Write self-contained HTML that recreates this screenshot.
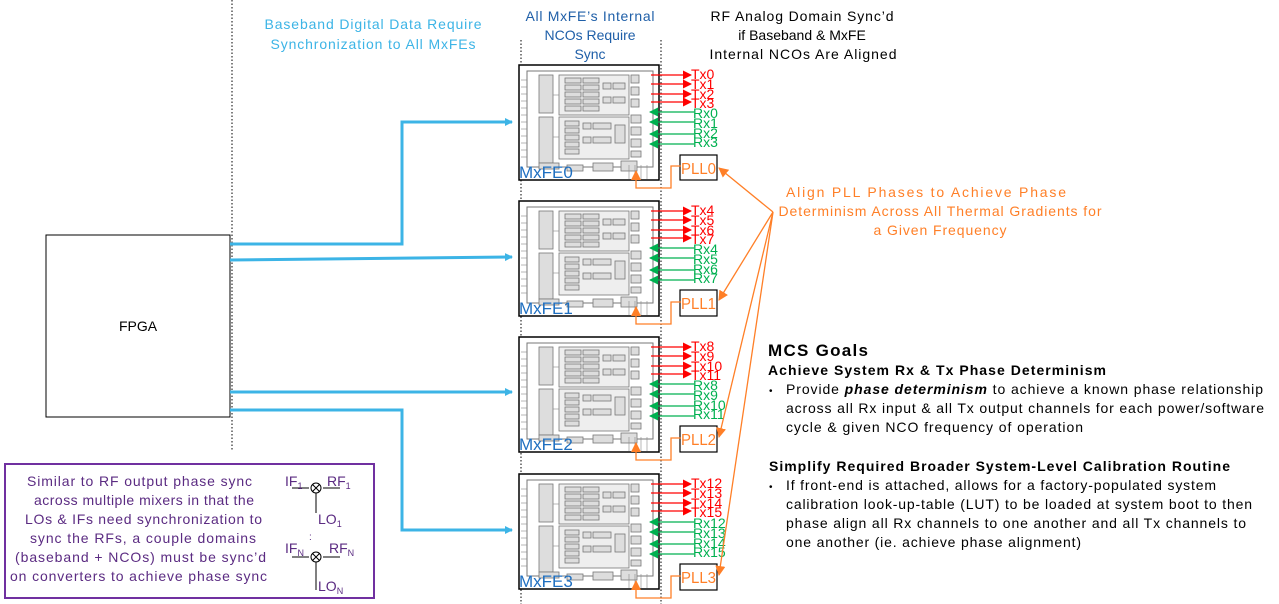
<!DOCTYPE html>
<html><head><meta charset="utf-8"><style>
body{margin:0;background:#fff;}
svg{display:block;font-family:"Liberation Sans",Arial,sans-serif;}
</style></head><body>
<svg width="1279" height="604" viewBox="0 0 1279 604" xmlns="http://www.w3.org/2000/svg">
<defs>
<marker id="ab" markerWidth="8" markerHeight="8" refX="7" refY="4" orient="auto" markerUnits="userSpaceOnUse"><path d="M0,0 L8,4 L0,8 z" fill="#3cb4e6"/></marker>
<marker id="ao" markerWidth="10" markerHeight="10" refX="9" refY="5" orient="auto" markerUnits="userSpaceOnUse"><path d="M0,0 L10,5 L0,10 z" fill="#ff7f27"/></marker>
<marker id="ar" markerWidth="9" markerHeight="9" refX="8" refY="4.5" orient="auto" markerUnits="userSpaceOnUse"><path d="M0,0 L9,4.5 L0,9 z" fill="#ff0000"/></marker>
<marker id="ag" markerWidth="9" markerHeight="9" refX="8" refY="4.5" orient="auto" markerUnits="userSpaceOnUse"><path d="M0,0 L9,4.5 L0,9 z" fill="#00b050"/></marker>
<g id="chip">
<rect x="0" y="0" width="140" height="115" fill="#fff" stroke="#000" stroke-width="1.5"/>
<rect x="8" y="6" width="126" height="96" fill="none" stroke="#777" stroke-width="1"/>
<g stroke="#777" stroke-width="0.8" fill="#ddd">
<rect x="20" y="10" width="14" height="38"/><rect x="20" y="52" width="14" height="46"/>
<rect x="40" y="10" width="70" height="40" fill="#eee"/><rect x="40" y="52" width="70" height="42" fill="#eee"/>
<rect x="46" y="13" width="16" height="5"/><rect x="46" y="20" width="16" height="5"/><rect x="46" y="27" width="16" height="5"/><rect x="46" y="34" width="16" height="5"/><rect x="46" y="41" width="16" height="5"/>
<rect x="64" y="13" width="16" height="5"/><rect x="64" y="20" width="16" height="5"/><rect x="64" y="27" width="16" height="5"/><rect x="64" y="34" width="16" height="5"/><rect x="64" y="41" width="16" height="5"/>
<rect x="84" y="18" width="8" height="6"/><rect x="94" y="18" width="12" height="6"/><rect x="84" y="32" width="8" height="6"/><rect x="94" y="32" width="12" height="6"/>
<rect x="46" y="56" width="14" height="5"/><rect x="46" y="63" width="14" height="5"/><rect x="46" y="70" width="14" height="5"/><rect x="46" y="77" width="14" height="5"/><rect x="46" y="84" width="14" height="5"/>
<rect x="64" y="58" width="8" height="6"/><rect x="74" y="58" width="18" height="6"/><rect x="64" y="72" width="8" height="6"/><rect x="74" y="72" width="18" height="6"/>
<rect x="96" y="60" width="10" height="18"/>
<rect x="112" y="10" width="8" height="8"/><rect x="112" y="22" width="8" height="8"/><rect x="112" y="34" width="8" height="8"/>
<rect x="112" y="50" width="10" height="8"/><rect x="112" y="62" width="10" height="8"/><rect x="112" y="74" width="10" height="8"/><rect x="112" y="86" width="10" height="6"/>
<rect x="20" y="98" width="20" height="6"/><rect x="48" y="100" width="16" height="6"/><rect x="74" y="98" width="20" height="8"/><rect x="102" y="96" width="16" height="10"/>
</g>
<g stroke="#888" stroke-width="0.6">
<line x1="2" y1="15" x2="8" y2="15"/><line x1="2" y1="22" x2="8" y2="22"/><line x1="2" y1="29" x2="8" y2="29"/><line x1="2" y1="36" x2="8" y2="36"/><line x1="2" y1="43" x2="8" y2="43"/><line x1="2" y1="50" x2="8" y2="50"/><line x1="2" y1="57" x2="8" y2="57"/><line x1="2" y1="64" x2="8" y2="64"/><line x1="2" y1="71" x2="8" y2="71"/><line x1="2" y1="78" x2="8" y2="78"/><line x1="2" y1="85" x2="8" y2="85"/><line x1="2" y1="92" x2="8" y2="92"/>
<line x1="34" y1="30" x2="40" y2="30"/><line x1="34" y1="72" x2="40" y2="72"/>
<line x1="110" y1="100" x2="110" y2="114"/><line x1="116" y1="100" x2="116" y2="114"/><line x1="122" y1="100" x2="122" y2="114"/><line x1="128" y1="100" x2="128" y2="114"/>
</g>
</g>
</defs>

<g stroke="#000" stroke-width="1" stroke-dasharray="1.5,2">
<line x1="232" y1="0" x2="232" y2="450"/>
<line x1="521" y1="40" x2="521" y2="604"/>
<line x1="661" y1="40" x2="661" y2="604"/>
</g>

<g font-size="14" text-anchor="middle">
<text x="373" y="29" fill="#3cb4e6" textLength="217" lengthAdjust="spacing">Baseband Digital Data Require</text>
<text x="373" y="49" fill="#3cb4e6" textLength="205" lengthAdjust="spacing">Synchronization  to All MxFEs</text>
<text x="590" y="21" fill="#1f5fa8" textLength="129" lengthAdjust="spacing">All MxFE’s Internal</text>
<text x="590" y="40" fill="#1f5fa8">NCOs Require</text>
<text x="590" y="59" fill="#1f5fa8">Sync</text>
<text x="802" y="21" fill="#000" textLength="183" lengthAdjust="spacing">RF Analog Domain Sync’d</text>
<text x="802" y="40" fill="#000">if Baseband &amp; MxFE</text>
<text x="803" y="59" fill="#000" textLength="187" lengthAdjust="spacing">Internal  NCOs Are Aligned</text>
</g>

<rect x="46" y="235" width="184" height="182" fill="#fff" stroke="#000" stroke-width="1"/>
<text x="138" y="331" font-size="14" text-anchor="middle">FPGA</text>

<g fill="none" stroke="#3cb4e6" stroke-width="3">
<polyline points="230,244 402,244 402,122 512,122" marker-end="url(#ab)"/>
<polyline points="230,260 512,257" marker-end="url(#ab)"/>
<polyline points="230,392 512,392" marker-end="url(#ab)"/>
<polyline points="230,410 402,410 402,530 512,530" marker-end="url(#ab)"/>
</g>

<use href="#chip" x="519" y="65"/>
<use href="#chip" x="519" y="201"/>
<use href="#chip" x="519" y="337"/>
<use href="#chip" x="519" y="474"/>
<g font-size="17" fill="#1f6fc0">
<text x="519" y="178">MxFE0</text>
<text x="519" y="314">MxFE1</text>
<text x="519" y="450">MxFE2</text>
<text x="519" y="587">MxFE3</text>
</g>

<g font-size="14">
<g stroke="#ff0000" stroke-width="1.3">
<line x1="651" y1="75" x2="691" y2="75" marker-end="url(#ar)"/><line x1="651" y1="84" x2="691" y2="84" marker-end="url(#ar)"/><line x1="651" y1="94" x2="691" y2="94" marker-end="url(#ar)"/><line x1="651" y1="102" x2="691" y2="102" marker-end="url(#ar)"/>
<line x1="651" y1="211" x2="691" y2="211" marker-end="url(#ar)"/><line x1="651" y1="220" x2="691" y2="220" marker-end="url(#ar)"/><line x1="651" y1="230" x2="691" y2="230" marker-end="url(#ar)"/><line x1="651" y1="238" x2="691" y2="238" marker-end="url(#ar)"/>
<line x1="651" y1="347" x2="691" y2="347" marker-end="url(#ar)"/><line x1="651" y1="356" x2="691" y2="356" marker-end="url(#ar)"/><line x1="651" y1="366" x2="691" y2="366" marker-end="url(#ar)"/><line x1="651" y1="374" x2="691" y2="374" marker-end="url(#ar)"/>
<line x1="651" y1="484" x2="691" y2="484" marker-end="url(#ar)"/><line x1="651" y1="493" x2="691" y2="493" marker-end="url(#ar)"/><line x1="651" y1="503" x2="691" y2="503" marker-end="url(#ar)"/><line x1="651" y1="511" x2="691" y2="511" marker-end="url(#ar)"/>
</g>
<g stroke="#00b050" stroke-width="1.3">
<line x1="694" y1="112" x2="650" y2="112" marker-end="url(#ag)"/><line x1="694" y1="122" x2="650" y2="122" marker-end="url(#ag)"/><line x1="694" y1="134" x2="650" y2="134" marker-end="url(#ag)"/><line x1="694" y1="144" x2="650" y2="144" marker-end="url(#ag)"/>
<line x1="694" y1="248" x2="650" y2="248" marker-end="url(#ag)"/><line x1="694" y1="258" x2="650" y2="258" marker-end="url(#ag)"/><line x1="694" y1="270" x2="650" y2="270" marker-end="url(#ag)"/><line x1="694" y1="280" x2="650" y2="280" marker-end="url(#ag)"/>
<line x1="694" y1="384" x2="650" y2="384" marker-end="url(#ag)"/><line x1="694" y1="394" x2="650" y2="394" marker-end="url(#ag)"/><line x1="694" y1="406" x2="650" y2="406" marker-end="url(#ag)"/><line x1="694" y1="416" x2="650" y2="416" marker-end="url(#ag)"/>
<line x1="694" y1="522" x2="650" y2="522" marker-end="url(#ag)"/><line x1="694" y1="532" x2="650" y2="532" marker-end="url(#ag)"/><line x1="694" y1="544" x2="650" y2="544" marker-end="url(#ag)"/><line x1="694" y1="554" x2="650" y2="554" marker-end="url(#ag)"/>
</g>
<g fill="#ff0000">
<text x="691" y="79">Tx0</text><text x="691" y="89">Tx1</text><text x="691" y="99">Tx2</text><text x="691" y="108">Tx3</text>
<text x="691" y="215">Tx4</text><text x="691" y="225">Tx5</text><text x="691" y="235">Tx6</text><text x="691" y="244">Tx7</text>
<text x="691" y="351">Tx8</text><text x="691" y="361">Tx9</text><text x="691" y="371">Tx10</text><text x="691" y="380">Tx11</text>
<text x="691" y="488">Tx12</text><text x="691" y="498">Tx13</text><text x="691" y="508">Tx14</text><text x="691" y="517">Tx15</text>
</g>
<g fill="#00b050">
<text x="693" y="118">Rx0</text><text x="693" y="128">Rx1</text><text x="693" y="138">Rx2</text><text x="693" y="147">Rx3</text>
<text x="693" y="254">Rx4</text><text x="693" y="264">Rx5</text><text x="693" y="274">Rx6</text><text x="693" y="283">Rx7</text>
<text x="693" y="390">Rx8</text><text x="693" y="400">Rx9</text><text x="693" y="410">Rx10</text><text x="693" y="419">Rx11</text>
<text x="693" y="528">Rx12</text><text x="693" y="538">Rx13</text><text x="693" y="548">Rx14</text><text x="693" y="557">Rx15</text>
</g>
</g>

<g fill="#fff" stroke="#000" stroke-width="1.2">
<rect x="680" y="155" width="37" height="25"/>
<rect x="680" y="290" width="37" height="26"/>
<rect x="680" y="426" width="37" height="26"/>
<rect x="680" y="564" width="37" height="26"/>
</g>
<g font-size="16" fill="#ff7f27">
<text x="681" y="174" textLength="35" lengthAdjust="spacingAndGlyphs">PLL0</text><text x="681" y="309" textLength="35" lengthAdjust="spacingAndGlyphs">PLL1</text><text x="681" y="445" textLength="35" lengthAdjust="spacingAndGlyphs">PLL2</text><text x="681" y="583" textLength="35" lengthAdjust="spacingAndGlyphs">PLL3</text>
</g>
<g fill="none" stroke="#ff7f27" stroke-width="1.3">
<polyline points="681,166 671,166 671,188 636,188 636,171" marker-end="url(#ao)"/>
<polyline points="681,302 671,302 671,324 636,324 636,307" marker-end="url(#ao)"/>
<polyline points="681,438 671,438 671,460 636,460 636,443" marker-end="url(#ao)"/>
<polyline points="681,576 671,576 671,598 636,598 636,581" marker-end="url(#ao)"/>
<line x1="773" y1="212" x2="719" y2="168" marker-end="url(#ao)"/>
<line x1="773" y1="212" x2="719" y2="300" marker-end="url(#ao)"/>
<line x1="773" y1="212" x2="719" y2="437" marker-end="url(#ao)"/>
<line x1="773" y1="212" x2="719" y2="575" marker-end="url(#ao)"/>
</g>
<g font-size="14" fill="#ff7f27" text-anchor="middle">
<text x="926" y="197" textLength="280" lengthAdjust="spacing">Align PLL Phases to Achieve Phase</text>
<text x="940" y="216" textLength="323" lengthAdjust="spacing">Determinism Across All Thermal Gradients for</text>
<text x="940" y="235" textLength="133" lengthAdjust="spacing">a Given Frequency</text>
</g>

<g fill="#000">
<text x="768" y="356" font-size="17" font-weight="bold" textLength="100" lengthAdjust="spacing">MCS Goals</text>
<text x="768" y="375" font-size="14" font-weight="bold" textLength="338" lengthAdjust="spacing">Achieve  System Rx &amp; Tx Phase Determinism</text>
<text x="769" y="394" font-size="10">•</text>
<text x="786" y="394" font-size="14" textLength="477" lengthAdjust="spacing">Provide <tspan font-weight="bold" font-style="italic">phase determinism</tspan>  to achieve a known phase relationship</text>
<text x="786" y="413" font-size="14" textLength="478" lengthAdjust="spacing">across all Rx input &amp; all Tx output  channels for each power/software</text>
<text x="786" y="432" font-size="14" textLength="297" lengthAdjust="spacing">cycle &amp; given NCO frequency  of operation</text>
<text x="769" y="471" font-size="14" font-weight="bold" textLength="461" lengthAdjust="spacing">Simplify Required Broader System-Level Calibration Routine</text>
<text x="769" y="490" font-size="10">•</text>
<text x="786" y="490" font-size="14" textLength="430" lengthAdjust="spacing">If front-end  is attached, allows for a factory-populated  system</text>
<text x="786" y="509" font-size="14" textLength="466" lengthAdjust="spacing">calibration look-up-table (LUT) to be loaded at system boot to then</text>
<text x="786" y="528" font-size="14" textLength="460" lengthAdjust="spacing">phase align all Rx channels to one another and all Tx channels to</text>
<text x="786" y="547" font-size="14" textLength="295" lengthAdjust="spacing">one another (ie. achieve phase alignment)</text>
</g>

<rect x="5" y="464" width="369" height="134" fill="#fff" stroke="#7030a0" stroke-width="2"/>
<g font-size="14" fill="#5b2b82">
<text x="27" y="486" textLength="225" lengthAdjust="spacing">Similar to RF output  phase sync</text>
<text x="34" y="505" textLength="220" lengthAdjust="spacing">across multiple  mixers in that the</text>
<text x="25" y="524" textLength="237" lengthAdjust="spacing">LOs &amp; IFs need synchronization  to</text>
<text x="30" y="543" textLength="226" lengthAdjust="spacing">sync the RFs, a couple domains</text>
<text x="15" y="562" textLength="251" lengthAdjust="spacing">(baseband + NCOs) must be sync’d</text>
<text x="10" y="581" textLength="257" lengthAdjust="spacing">on converters  to achieve phase sync</text>
</g>
<g stroke="#000" stroke-width="1" fill="none">
<line x1="292" y1="488" x2="309" y2="488"/><line x1="323" y1="488" x2="340" y2="488"/>
<circle cx="316" cy="488" r="5"/><path d="M312.5,484.5 L319.5,491.5 M319.5,484.5 L312.5,491.5"/>
<line x1="316" y1="493" x2="316" y2="513"/>
<line x1="292" y1="557" x2="309" y2="557"/><line x1="323" y1="557" x2="340" y2="557"/>
<circle cx="316" cy="557" r="5"/><path d="M312.5,553.5 L319.5,560.5 M319.5,553.5 L312.5,560.5"/>
<line x1="316" y1="562" x2="316" y2="590"/>
</g>
<g font-size="14" fill="#5b2b82">
<text x="285" y="486">IF<tspan font-size="9" dy="3">1</tspan></text>
<text x="327" y="486">RF<tspan font-size="9" dy="3">1</tspan></text>
<text x="318" y="524">LO<tspan font-size="9" dy="3">1</tspan></text>
<text x="309" y="540" font-size="10">:</text>
<text x="285" y="553">IF<tspan font-size="9" dy="3">N</tspan></text>
<text x="329" y="553">RF<tspan font-size="9" dy="3">N</tspan></text>
<text x="318" y="591">LO<tspan font-size="9" dy="3">N</tspan></text>
</g>
</svg>
</body></html>
